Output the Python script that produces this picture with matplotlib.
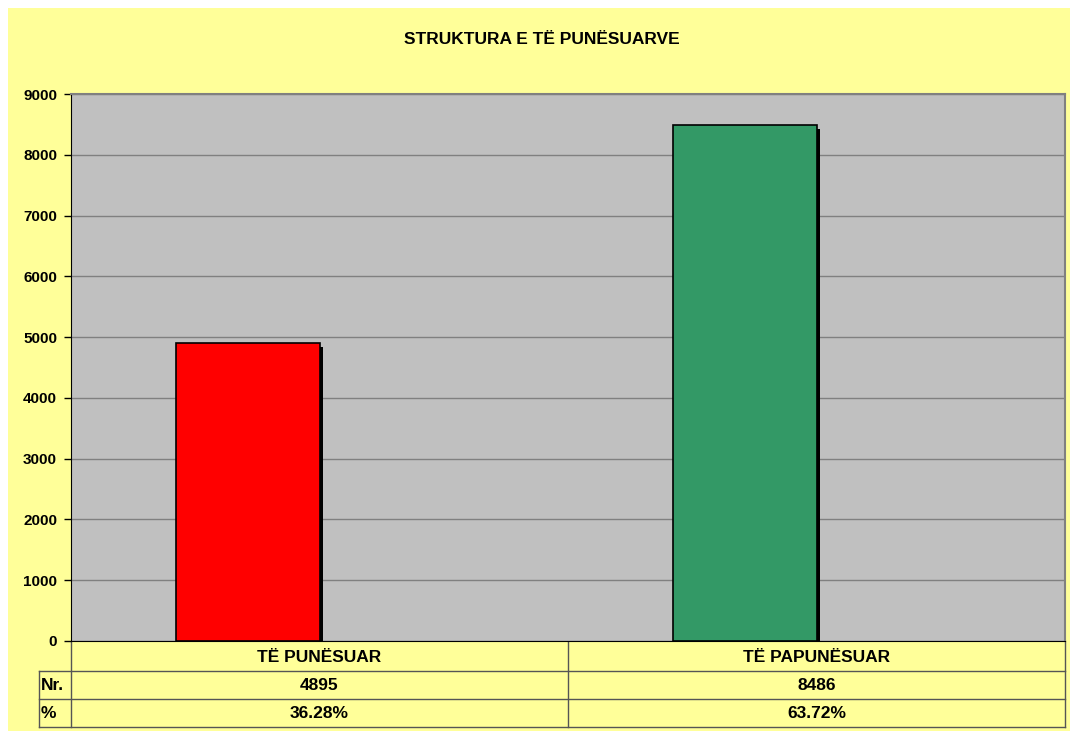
import matplotlib.pyplot as plt
import matplotlib.patheffects as pe
from matplotlib.patches import Rectangle

# Data
categories = ['TË PUNËSUAR', 'TË PAPUNËSUAR']
counts = [4895, 8486]
percents = ['36.28%', '63.72%']
bar_colors = ['#FF0000', '#339966']
row_labels = ['Nr.', '%']
yticks = [0, 1000, 2000, 3000, 4000, 5000, 6000, 7000, 8000, 9000]
title = 'STRUKTURA E TË PUNËSUARVE'

W, H = 1070, 731
yellow = '#FFFF99'
plt.rcParams['font.family'] = ['Liberation Sans', 'DejaVu Sans']

fig = plt.figure(figsize=(W / 100, H / 100), dpi=100, facecolor='white')

# background panel (white margin at top/left)
bg = fig.add_axes([0, 0, 1, 1])
bg.set_xlim(0, W)
bg.set_ylim(H, 0)
bg.axis('off')
bg.add_patch(Rectangle((8, 8), W - 8, H - 8, facecolor=yellow, edgecolor='none'))
bg.text(542, 39, title, ha='center', va='center', fontsize=12.5, fontweight='bold')

# plot area in pixels
px0, px1, py0, py1 = 71, 1065, 94, 641
ax = fig.add_axes([px0 / W, (H - py1) / H, (px1 - px0) / W, (py1 - py0) / H])
ax.set_facecolor('#C0C0C0')
ax.set_xlim(0, len(categories))
ax.set_ylim(0, 9000)
ax.set_yticks(yticks)
ax.set_yticklabels([str(t) for t in yticks], fontsize=11, fontweight='bold')
ax.tick_params(axis='y', length=5, width=1, color='black', pad=5)
ax.set_xticks([])
ax.grid(axis='y', color='#808080', linewidth=1)
ax.set_axisbelow(True)
for side in ['top', 'right']:
    ax.spines[side].set_color('#808080')
    ax.spines[side].set_linewidth(1.5)
ax.spines['left'].set_color('black')
ax.spines['bottom'].set_color('black')

xs = [i + 0.5 - 0.144 for i in range(len(categories))]
bars = ax.bar(xs, counts, width=0.288, color=bar_colors, edgecolor='black', linewidth=1.2, zorder=3)
for b in bars:
    b.set_path_effects([pe.SimplePatchShadow(offset=(2.5, -2.5), shadow_rgbFace='black', alpha=1.0), pe.Normal()])

# data table below the plot
tx0 = 39
rows_y = [641, 671, 699, 727]
col_w = (px1 - px0) / len(categories)
lc = '#555555'
bg.plot([tx0, px1], [rows_y[1], rows_y[1]], color=lc, lw=1)
bg.plot([tx0, px1], [rows_y[2], rows_y[2]], color=lc, lw=1)
bg.plot([tx0, px1], [rows_y[3], rows_y[3]], color=lc, lw=1)
bg.plot([tx0, tx0], [rows_y[1], rows_y[3]], color=lc, lw=1)
for i in range(len(categories) + 1):
    x = px0 + i * col_w
    bg.plot([x, x], [rows_y[0], rows_y[3]], color=lc, lw=1)

for i, cat in enumerate(categories):
    cx = px0 + (i + 0.5) * col_w
    bg.text(cx, (rows_y[0] + rows_y[1]) / 2 + 1, cat, ha='center', va='center', fontsize=12.5, fontweight='bold')
    bg.text(cx, (rows_y[1] + rows_y[2]) / 2 + 1, str(counts[i]), ha='center', va='center', fontsize=12.5, fontweight='bold')
    bg.text(cx, (rows_y[2] + rows_y[3]) / 2 + 1, percents[i], ha='center', va='center', fontsize=12.5, fontweight='bold')
for j, lab in enumerate(row_labels):
    bg.text(tx0 + 2, (rows_y[j + 1] + rows_y[j + 2]) / 2 + 1, lab, ha='left', va='center', fontsize=12.5, fontweight='bold')

fig.savefig('out.png', dpi=100, facecolor='white')
